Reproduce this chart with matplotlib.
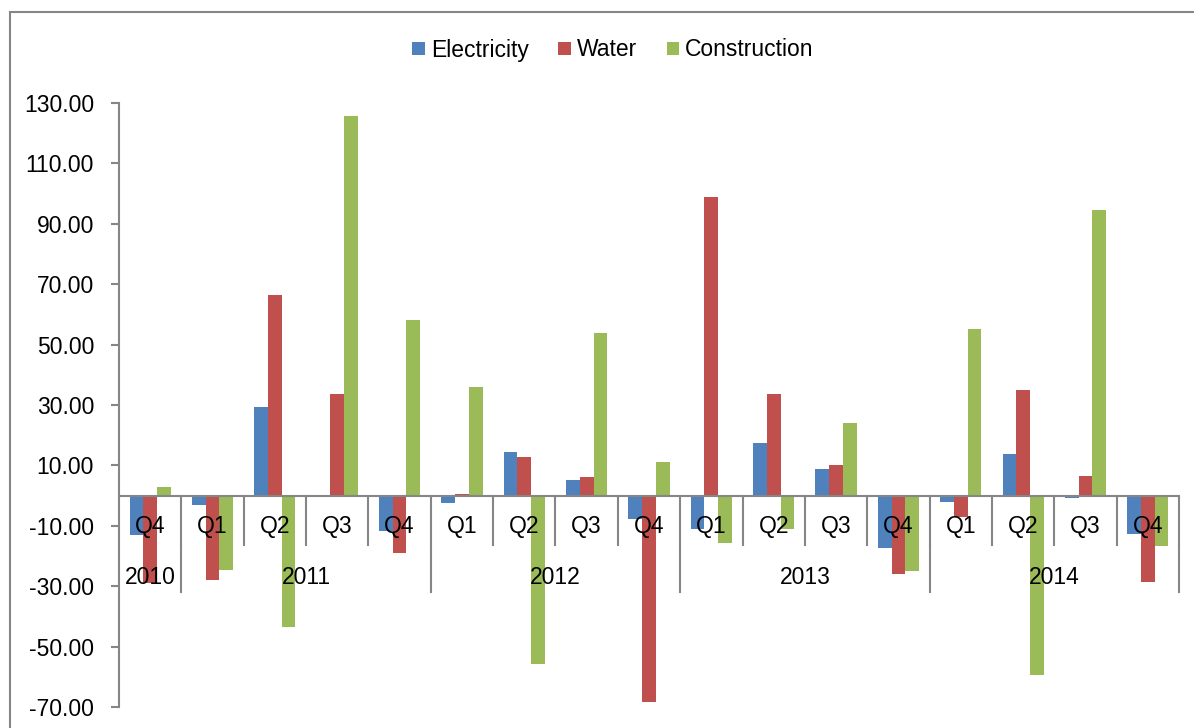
import matplotlib
matplotlib.use("Agg")
import matplotlib.pyplot as plt
import numpy as np
from matplotlib.patches import Rectangle, Patch
from matplotlib.transforms import blended_transform_factory
from matplotlib import font_manager

quarters = ["Q4", "Q1", "Q2", "Q3", "Q4", "Q1", "Q2", "Q3", "Q4",
            "Q1", "Q2", "Q3", "Q4", "Q1", "Q2", "Q3", "Q4"]
years = ["2010", "2011", "2012", "2013", "2014"]
year_counts = [1, 4, 4, 4, 4]

electricity = [-12.9, -3.1, 29.2, 0.0, -11.6, -2.5, 14.5, 5.0, -7.7,
               -11.0, 17.3, 8.8, -17.3, -2.1, 13.8, -0.7, -12.6]
water = [-29.0, -27.9, 66.4, 33.5, -19.0, 0.5, 12.8, 6.2, -68.3,
         99.0, 33.5, 10.0, -25.8, -7.0, 35.1, 6.6, -28.6]
construction = [2.7, -24.6, -43.5, 125.6, 58.2, 36.1, -55.7, 53.7, 11.2,
                -15.8, -11.0, 23.9, -25.0, 55.1, -59.5, 94.6, -16.7]

series = [("Electricity", electricity, "#4F81BD"),
          ("Water", water, "#C0504D"),
          ("Construction", construction, "#9BBB59")]

names = {f.name for f in font_manager.fontManager.ttflist}
if "Liberation Sans Narrow" in names:
    plt.rcParams['font.family'] = ['Liberation Sans Narrow', 'DejaVu Sans']
    FS = 18.5
else:
    plt.rcParams['font.family'] = ['Liberation Sans', 'DejaVu Sans']
    FS = 16.5

W, H = 1194, 728
fig = plt.figure(figsize=(W / 100, H / 100), dpi=100)
ax = fig.add_axes([119 / W, 1 - 707 / H, (1179 - 119) / W, (707 - 103) / H])

x = np.arange(len(quarters))
bw = 0.22
for i, (name, vals, col) in enumerate(series):
    ax.bar(x + (i - 1) * bw, vals, width=bw, color=col, label=name, zorder=2)

ax.set_xlim(-0.5, len(quarters) - 0.5)
ax.set_ylim(-70, 130)
ax.set_yticks(np.arange(-70, 131, 20))
ax.yaxis.set_major_formatter(matplotlib.ticker.FormatStrFormatter('%.2f'))
axcol = "#868686"
for s in ["top", "right", "bottom"]:
    ax.spines[s].set_visible(False)
ax.spines["left"].set_color(axcol)
ax.spines["left"].set_linewidth(1.5)
ax.tick_params(axis='y', length=6, width=1.5, color=axcol, labelsize=FS, pad=12)
ax.set_xticks([])

# zero axis line
ax.axhline(0, color=axcol, lw=1.5, zorder=3)

trans = blended_transform_factory(ax.transData, ax.transAxes)
zero_frac = 70 / 200
q_bottom = (707 - 545) / 604
y_bottom = (707 - 592) / 604
q_text = (707 - 527) / 604
y_text = (707 - 578) / 604

# quarter dividers
for b in range(1, len(quarters) + 1):
    ax.plot([b - 0.5, b - 0.5], [zero_frac, q_bottom], transform=trans,
            color=axcol, lw=1.5, clip_on=False, zorder=3)
# year dividers
edges = np.cumsum(year_counts)
for e in edges:
    ax.plot([e - 0.5, e - 0.5], [q_bottom, y_bottom], transform=trans,
            color=axcol, lw=1.5, clip_on=False, zorder=3)

for xi, q in zip(x, quarters):
    ax.text(xi, q_text, q, transform=trans, ha='center', va='center',
            fontsize=FS, zorder=4)
starts = np.concatenate([[0], edges[:-1]])
for yr, st, n in zip(years, starts, year_counts):
    ax.text(st + (n - 1) / 2, y_text, yr, transform=trans, ha='center',
            va='center', fontsize=FS, zorder=4)

# outer chart border
fig.patches.append(Rectangle((10 / W, -0.05), 1.1, 1 - 12 / H + 0.05,
                             transform=fig.transFigure, fill=False,
                             edgecolor=axcol, lw=1.5))

handles = [Patch(facecolor=c, label=n) for n, _, c in series]
fig.legend(handles=handles, loc='center', bbox_to_anchor=(613 / W, 1 - 50 / H),
           ncol=3, frameon=False, fontsize=FS, handlelength=0.55,
           handleheight=0.5, handletextpad=0.25, columnspacing=1.3)

fig.savefig("out.png", dpi=100)
